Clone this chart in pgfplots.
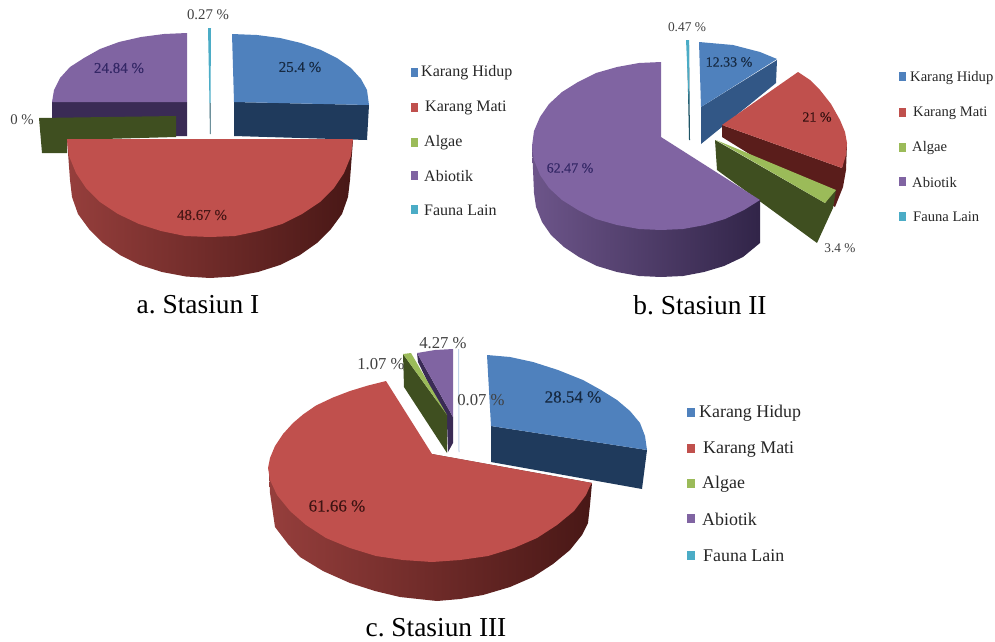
\documentclass[border=0pt]{standalone}
\usepackage{fontspec}
\setmainfont{Liberation Serif}
\newfontfamily\piefont[FakeBold=0.15]{Liberation Serif}
\usepackage{pgfplots}
\pgfplotsset{compat=1.18}
\definecolor{cBlue}{HTML}{4F81BD}
\definecolor{cBlueD}{HTML}{1F3A5C}
\definecolor{cBlueM}{HTML}{325786}
\definecolor{cRed}{HTML}{C0504D}
\definecolor{cRedD}{HTML}{5A1D1B}
\definecolor{cGreen}{HTML}{9BBB59}
\definecolor{cGreenD}{HTML}{3F4F20}
\definecolor{cPurple}{HTML}{8064A2}
\definecolor{cPurpleD}{HTML}{3A2B55}
\definecolor{cTeal}{HTML}{4BACC6}
\definecolor{cTealD}{HTML}{1F5566}
\definecolor{cOut}{HTML}{404040}
\newcommand{\fs}[1]{\fontsize{#1}{#1}\selectfont}
\tikzset{
  face/.style={fill=#1, draw=none, mark=none},
  pct/.style={font=\fs{#1}, inner sep=0pt},
  pin/.style={font=\piefont\fs{#1}, inner sep=0pt},
  lbl/.style={font=\fs{#1}, inner sep=0pt, anchor=west, text=black!85},
}
\begin{document}
\frenchspacing
\begin{tikzpicture}
\useasboundingbox (0,0) rectangle (995pt,641pt);
\begin{axis}[
  at={(0,0)}, anchor=south west,
  width=995pt, height=641pt, scale only axis,
  xmin=0, xmax=995, ymin=0, ymax=641, y dir=reverse,
  hide axis, clip=false,
]
% ---------- a. Stasiun I ----------
\addplot[face=cBlueD] coordinates {(234,102)(369,105)(367,140)(234,136)} --cycle;
\addplot[face=cBlue] coordinates {(232,34)(257,35)(280,38)(301,43)(321,50)(337,58)(351,68)(361,79)(367,90)(369,105)(234,102)} --cycle;
\addplot[face=cPurpleD] coordinates {(52,102)(52,120)(176,118)(176,136)(187,136)(187,102)} --cycle;
\addplot[face=cPurple] coordinates {(187,33)(164,34)(141,37)(119,42)(100,49)(84,58)(70,67)(60,78)(54,90)(52,102)(187,102)} --cycle;
\addplot[face=cTeal] coordinates {(208,28)(211,28)(210.5,103)(209.5,103)} --cycle;
\addplot[face=cTealD] coordinates {(209.5,103)(210.5,103)(210.5,134)(210,134)} --cycle;
\addplot[face=cGreenD] coordinates {(39,118)(176,116)(176,137)(67,140)(67,153)(42,153)} --cycle;
\addplot[draw=none, mark=none, left color=cRed!78!black, right color=cRedD!80!black] coordinates {(353,140)(350,180)(348,197)(342,214)(331,229)(317,243)(300,255)(280,265)(258,272)(234,276.5)(210,278)(186,276.5)(162,272)(140,265)(120,255)(103,243)(89,229)(78,214)(72,197)(70,180)(67,139)} --cycle;
\addplot[face=cRed] coordinates {(353,139)(351,156)(344,173)(334,188)(320,202)(302,214)(282,224)(259,231)(235,236)(210,237)(185,236)(161,231)(139,224)(118,214)(100,202)(86,188)(76,173)(69,156)(67,139)} --cycle;
\node[pct=14.8, text=cOut] at (axis cs:208,15) {0.27 \%};
\node[pin=15, text=cBlueD!70!black] at (axis cs:300,67) {25.4 \%};
\node[pin=15, text=cPurpleD!90!blue] at (axis cs:119,68) {24.84 \%};
\node[pct=14.8, text=cOut] at (axis cs:22,120) {0 \%};
\node[pin=15, text=cRedD!80!black] at (axis cs:202,215) {48.67 \%};
\node[font=\fs{27.4}, inner sep=0pt] at (axis cs:198,305) {a. Stasiun I};
% legend of chart a
\addplot[face=cBlue] coordinates {(411,68)(418,68)(418,77)(411,77)} --cycle;
\addplot[face=cRed] coordinates {(411,103)(418,103)(418,112)(411,112)} --cycle;
\addplot[face=cGreen] coordinates {(411,138)(418,138)(418,147)(411,147)} --cycle;
\addplot[face=cPurple] coordinates {(411,171)(418,171)(418,180)(411,180)} --cycle;
\addplot[face=cTeal] coordinates {(411,205)(418,205)(418,214)(411,214)} --cycle;
\node[lbl=16] at (axis cs:421,73) {Karang Hidup};
\node[lbl=16] at (axis cs:425,108) {Karang Mati};
\node[lbl=16] at (axis cs:424,143) {Algae};
\node[lbl=16] at (axis cs:424,176) {Abiotik};
\node[lbl=16] at (axis cs:424,210) {Fauna Lain};
% ---------- b. Stasiun II ----------
\addplot[face=cBlueM] coordinates {(701,107)(777,60)(776,83)(701,144)} --cycle;
\addplot[face=cBlue] coordinates {(699,42)(733,45)(760,52)(777,59)(701,107)} --cycle;
\addplot[face=cTealD] coordinates {(687,45)(689,45)(690,140)(689,140)} --cycle;
\addplot[face=cTeal] coordinates {(686,40)(689,40)(689,105)} --cycle;
\addplot[face=cRedD] coordinates {(722,125)(722,137)(835,207)(843,187)(846,170)(847,143)(842,168)} --cycle;
\addplot[face=cRed] coordinates {(722,125)(798,72)(810,80)(820,90)(831,104)(840,120)(845,132)(847,143)(846,155)(842,168)} --cycle;
\addplot[face=cGreenD] coordinates {(715,140)(717,170)(817,243)(833,208)(836,190)(825,203)} --cycle;
\addplot[face=cGreen] coordinates {(716,140)(836,190)(825,203)} --cycle;
\addplot[draw=none, mark=none, left color=cPurple!85!black, right color=cPurpleD!85!black] coordinates {(532,146)(534,193)(536,207)(542,222)(551,235)(564,247)(579,257)(597,266)(617,272)(639,276)(661,277)(683,276)(704,272)(724,266)(743,257)(760,243)(760,200)(661,150)} --cycle;
\addplot[face=cPurple] coordinates {(661,62)(639,63)(617,67)(596,73)(578,82)(562,92)(549,104)(540,117)(534,131)(532,146)(534,160)(540,175)(549,188)(562,200)(578,210)(596,219)(617,225)(639,229)(661,230)(683,229)(705,225)(725,219)(744,210)(760,200)(661,137)} --cycle;
\node[pct=13.4, text=cOut] at (axis cs:687,27) {0.47 \%};
\node[pin=14, text=cBlueD!70!black] at (axis cs:729,62) {12.33 \%};
\node[pin=14, text=cRedD!60!black] at (axis cs:817,117) {21 \%};
\node[pin=14, text=cPurpleD!90!blue] at (axis cs:570,168) {62.47 \%};
\node[pct=13.3, text=cOut] at (axis cs:840,248) {3.4 \%};
\node[font=\fs{27.4}, inner sep=0pt] at (axis cs:700,305) {b. Stasiun II};
% legend of chart b
\addplot[face=cBlue] coordinates {(899,72)(906,72)(906,81)(899,81)} --cycle;
\addplot[face=cRed] coordinates {(899,108)(906,108)(906,117)(899,117)} --cycle;
\addplot[face=cGreen] coordinates {(899,143)(906,143)(906,152)(899,152)} --cycle;
\addplot[face=cPurple] coordinates {(899,177)(906,177)(906,186)(899,186)} --cycle;
\addplot[face=cTeal] coordinates {(899,212)(906,212)(906,221)(899,221)} --cycle;
\node[lbl=14.6] at (axis cs:910,78) {Karang Hidup};
\node[lbl=14.6] at (axis cs:913,113) {Karang Mati};
\node[lbl=14.6] at (axis cs:912,148) {Algae};
\node[lbl=14.6] at (axis cs:912,182) {Abiotik};
\node[lbl=14.6] at (axis cs:913,217) {Fauna Lain};
% ---------- c. Stasiun III ----------
\addplot[face=cBlueD] coordinates {(491,426)(647,450)(642,489)(491,462)} --cycle;
\addplot[face=cBlue] coordinates {(487,355)(510,357)(533,362)(558,370)(583,380)(601,390)(617,400)(630,411)(640,423)(645,436)(647,450)(491,426)} --cycle;
\addplot[face=cPurpleD] coordinates {(417,353)(418,362)(447,422)(448,452)(453,443)(453,417)} --cycle;
\addplot[face=cPurple] coordinates {(417,353)(435,350)(453,349)(453,417)} --cycle;
\addplot[face=cGreenD] coordinates {(403,354)(404,387)(447,453)(447,415)} --cycle;
\addplot[face=cGreen] coordinates {(403,354)(411,353)(447,415)} --cycle;
\addplot[face=cBlue!35!white] coordinates {(458,349)(459,349)(459.5,452)(458.5,452)} --cycle;
\addplot[draw=none, mark=none, left color=cRed!78!black, right color=cRedD!80!black] coordinates {(269,470)(270,493)(275,527)(288,544)(300,557)(323,571)(350,583)(375,591)(400,597)(437,601)(460,599)(483,595)(510,587)(533,577)(553,564)(570,550)(582,535)(588,523)(590,505)(592,483)(432,454)} --cycle;
\addplot[face=cRed] coordinates {(432,454)(386,381)(368,385.5)(350,391)(333,397.5)(316,405.5)(303,414.5)(293,423)(283,434)(275,446)(270,458)(268,468)(270,480)(277,495)(290,511)(306,525)(326,538)(350,548)(376,556)(403,560)(432,562)(460,560)(488,556)(514,548)(537,538)(557,525)(574,511)(586,495)(590,486)(592,483)} --cycle;
\node[pct=16.7, text=cOut] at (axis cs:443,343) {4.27 \%};
\node[pct=16.7, text=cOut] at (axis cs:381,364) {1.07 \%};
\node[pct=16.7, text=cOut] at (axis cs:481,400) {0.07 \%};
\node[pin=17, text=cBlueD!70!black] at (axis cs:573,397) {28.54 \%};
\node[pin=17, text=cRedD!70!black] at (axis cs:337,506) {61.66 \%};
\node[font=\fs{27.4}, inner sep=0pt] at (axis cs:436,628) {c. Stasiun III};
% legend of chart c
\addplot[face=cBlue] coordinates {(687,408)(695,408)(695,417)(687,417)} --cycle;
\addplot[face=cRed] coordinates {(687,444)(695,444)(695,453)(687,453)} --cycle;
\addplot[face=cGreen] coordinates {(687,479)(695,479)(695,488)(687,488)} --cycle;
\addplot[face=cPurple] coordinates {(687,514)(695,514)(695,523)(687,523)} --cycle;
\addplot[face=cTeal] coordinates {(687,551)(695,551)(695,560)(687,560)} --cycle;
\node[lbl=17.9] at (axis cs:699,413) {Karang Hidup};
\node[lbl=17.9] at (axis cs:703,449) {Karang Mati};
\node[lbl=17.9] at (axis cs:702,484) {Algae};
\node[lbl=17.9] at (axis cs:702,519) {Abiotik};
\node[lbl=17.9] at (axis cs:703,556) {Fauna Lain};
\end{axis}
\end{tikzpicture}
\end{document}
